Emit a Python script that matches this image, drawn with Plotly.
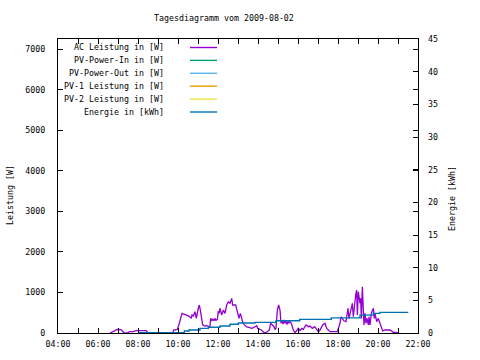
import plotly.graph_objects as go

DATE = "2009-08-02"

# AC Leistung [W] (time, value)
ac_times = ["06:36","06:39","06:45","06:51","06:57","07:03","07:09","07:15","07:18","07:30",
            "07:34","07:45","07:55","08:10","08:25","08:30","09:00","09:30","09:44","09:47",
            "09:58","10:04","10:09","10:12","10:16","10:21","10:26","10:29","10:34","10:36",
            "10:40","10:42","10:46","10:51","10:55","11:01","11:04","11:07","11:11","11:14",
            "11:20","11:26","11:31","11:36","11:38","11:42","11:45","11:48","11:51","11:54",
            "11:58","12:01","12:03","12:06","12:11","12:16","12:21","12:26","12:31","12:36",
            "12:41","12:44","12:53","12:57","13:00","13:03","13:07","13:10","13:15","13:20",
            "13:25","13:35","13:41","13:46","13:56","13:59","14:06","14:10","14:13","14:18",
            "14:24","14:34","14:38","14:43","14:48","14:51","14:54","14:58","15:02","15:06",
            "15:09","15:12","15:15","15:18","15:21","15:24","15:27","15:30","15:33","15:36",
            "15:40","15:46","15:51","15:56","16:01","16:06","16:11","16:16","16:24","16:31",
            "16:36","16:43","16:50","16:56","17:01","17:06","17:14","17:21","17:26","17:31",
            "17:36","17:58","18:01","18:06","18:09","18:13","18:18","18:24","18:30","18:33",
            "18:43","18:46","18:49","18:53","18:56","18:58","19:01","19:06","19:08","19:10",
            "19:13","19:15","19:18","19:21","19:24","19:27","19:31","19:33","19:36","19:40",
            "19:46","19:49","19:51","19:56","20:01","20:06","20:11","20:14","20:21","20:36",
            "20:41","20:46","20:56","21:01"]
ac_values = [0,10,40,60,91,91,85,30,0,0,
             33,33,57,57,57,0,0,0,0,74,
             90,240,400,485,470,460,440,430,410,400,
             360,445,420,525,360,610,690,565,360,200,
             170,180,165,170,360,300,350,300,360,310,
             340,540,480,610,445,565,485,690,770,730,
             855,690,690,525,485,360,485,400,240,200,
             155,130,115,130,180,115,100,74,50,8,
             8,74,240,200,155,90,115,565,690,565,
             240,300,220,320,240,290,210,300,250,280,
             240,74,8,57,115,57,115,90,200,155,
             170,115,155,90,33,74,200,240,115,74,
             33,33,115,240,400,360,300,280,610,360,
             730,400,690,935,1060,445,1015,730,855,360,
             1140,610,200,485,240,360,200,400,200,485,
             610,360,485,280,360,240,115,50,74,74,
             50,17,17,0]

# Energie [kWh] (stepped)
en_times = ["08:01","10:19","10:33","11:06","11:31","12:06","12:36","13:01","13:51",
            "14:54","16:05","17:40","19:06","19:46","20:06","21:31"]
en_values = [0.05,0.3,0.46,0.71,0.87,1.07,1.33,1.53,1.63,
             1.88,2.09,2.32,2.74,3.0,3.16,3.16]

legend_labels = ["AC Leistung in [W]", "PV-Power-In in [W]", "PV-Power-Out in [W]",
                 "PV-1 Leistung in [W]", "PV-2 Leistung in [W]", "Energie in [kWh]"]
legend_colors = ["#9400d3", "#009e73", "#56b4e9", "#e69f00", "#f0e442", "#0072b2"]

title = "Tagesdiagramm vom 2009-08-02"

FONT = "DejaVu Sans Mono"
FS = 8.3

def ts(t):
    return f"{DATE} {t}:00"

fig = go.Figure()
fig.add_trace(go.Scatter(x=[ts(t) for t in ac_times], y=ac_values, mode="lines",
                         line=dict(color=legend_colors[0], width=1.3), yaxis="y",
                         showlegend=False))
fig.add_trace(go.Scatter(x=[ts(t) for t in en_times], y=en_values, mode="lines",
                         line=dict(color=legend_colors[5], width=1.4, shape="hv"),
                         yaxis="y2", showlegend=False))

W, H = 480, 360
L, R, T, B = 58, 62, 39, 27
pw, ph = W - L - R, H - T - B

def px(xp):
    return (xp - L) / pw

def py(yp):
    return (H - B - yp) / ph

annotations = []
shapes = []
for i, (lab, col) in enumerate(zip(legend_labels, legend_colors)):
    yy = 47.5 + 12.9 * i
    annotations.append(dict(x=px(166), y=py(yy), xref="paper", yref="paper", text=lab,
                            showarrow=False, xanchor="right", yanchor="middle",
                            font=dict(family=FONT, size=FS, color="black")))
    shapes.append(dict(type="line", xref="paper", yref="paper", x0=px(190), x1=px(217),
                       y0=py(yy), y1=py(yy), line=dict(color=col, width=1.4)))

annotations.append(dict(x=px(224), y=py(18), xref="paper", yref="paper", text=title,
                        showarrow=False, xanchor="center", yanchor="middle",
                        font=dict(family=FONT, size=FS, color="black")))
annotations.append(dict(x=px(10), y=py(195), xref="paper", yref="paper", text="Leistung [W]",
                        showarrow=False, xanchor="center", yanchor="middle", textangle=-90,
                        font=dict(family=FONT, size=FS, color="black")))
annotations.append(dict(x=px(452), y=py(199), xref="paper", yref="paper", text="Energie [kWh]",
                        showarrow=False, xanchor="center", yanchor="middle", textangle=-90,
                        font=dict(family=FONT, size=FS, color="black")))

fig.update_layout(
    width=W, height=H,
    margin=dict(l=L, r=R, t=T, b=B, pad=0),
    paper_bgcolor="white", plot_bgcolor="white",
    font=dict(family=FONT, size=FS, color="black"),
    showlegend=False,
    annotations=annotations, shapes=shapes,
    xaxis=dict(type="date", range=[ts("04:00"), ts("22:00")],
               dtick=2 * 3600000, tick0=ts("04:00"), tickformat="%H:%M",
               ticks="inside", ticklen=5, tickcolor="black", tickwidth=1,
               minor=dict(dtick=3600000, ticks="inside", ticklen=5, tickcolor="black"),
               showline=True, linecolor="black", linewidth=1, mirror="ticks",
               showgrid=False, zeroline=False, ticklabelstandoff=3,
               tickfont=dict(family=FONT, size=FS)),
    yaxis=dict(range=[0, 7250], dtick=1000, tick0=0,
               ticks="inside", ticklen=5, tickcolor="black",
               showline=True, linecolor="black", linewidth=1, mirror="ticks",
               showgrid=False, zeroline=False, ticklabelstandoff=10,
               tickfont=dict(family=FONT, size=FS)),
    yaxis2=dict(range=[0, 45], dtick=5, tick0=0, overlaying="y", side="right",
                ticks="inside", ticklen=5, tickcolor="black",
                showline=False, showgrid=False, zeroline=False, ticklabelstandoff=9,
                tickfont=dict(family=FONT, size=FS)),
)

fig.write_html("out.html", config={"displayModeBar": False},
               post_script="document.body.style.margin='0';document.body.style.padding='0';")
